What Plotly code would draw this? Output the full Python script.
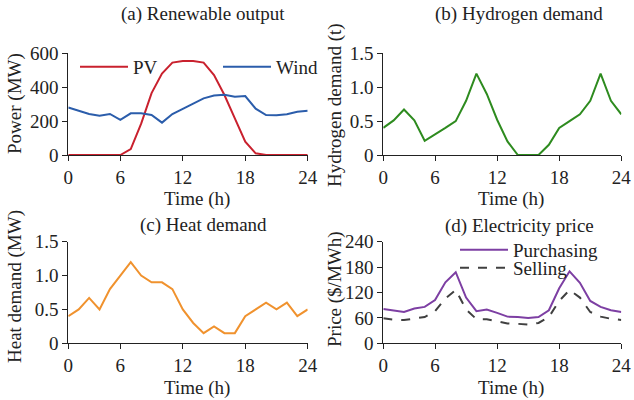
import plotly.graph_objects as go

# ---------------- data ----------------
hours = list(range(1, 25))
x_tick_vals = [1, 6, 12, 18, 24]
x_tick_text = ["0", "6", "12", "18", "24"]

pv = [0, 0, 0, 0, 0, 0, 35, 185, 365, 480, 545, 555,
      555, 545, 472, 354, 216, 79, 10, 0, 0, 0, 0, 0]
wind = [280, 260, 242, 232, 242, 207, 246, 246, 236, 191, 242, 272,
        305, 334, 351, 356, 344, 348, 273, 236, 234, 240, 255, 261]
hydrogen = [0.40, 0.51, 0.67, 0.51, 0.21, 0.30, 0.40, 0.50, 0.80, 1.20, 0.90, 0.52,
            0.20, 0.0, 0.0, 0.0, 0.15, 0.40, 0.50, 0.60, 0.80, 1.20, 0.80, 0.60]
heat = [0.40, 0.50, 0.67, 0.50, 0.80, 1.00, 1.20, 1.00, 0.90, 0.90, 0.80, 0.50,
        0.30, 0.15, 0.25, 0.15, 0.15, 0.40, 0.50, 0.60, 0.50, 0.60, 0.40, 0.50]
price_buy = [81, 78, 74, 82, 86, 102, 144, 168, 108, 76, 80, 72,
             63, 62, 60, 62, 78, 130, 170, 143, 100, 86, 78, 74]
price_sell = [59, 56, 55, 58, 62, 76, 106, 126, 80, 57, 57, 52,
              47, 46, 44, 48, 62, 100, 126, 108, 74, 63, 58, 55]

power_ticks = [0, 200, 400, 600]
unit_ticks = [0, 0.5, 1.0, 1.5]
unit_tick_text = ["0", "0.5", "1.0", "1.5"]
price_ticks = [0, 60, 120, 180, 240]

panel_titles = ["(a) Renewable output", "(b) Hydrogen demand",
                "(c) Heat demand", "(d) Electricity price"]
y_titles = ["Power (MW)", "Hydrogen demand (t)", "Heat demand (MW)", "Price ($/MWh)"]
x_title = "Time (h)"

# ---------------- layout helpers ----------------
W, H = 634, 400
FONT = "Liberation Serif, Times New Roman, serif"
FS = 19

def fx(px):
    return px / W

def fy(py):
    return 1 - py / H

left_x = (68.3, 307.7)
right_x = (383.3, 621.3)
top_y = (53.3, 155.0)
bot_y = (241.7, 343.3)

fig = go.Figure()

fig.add_trace(go.Scatter(x=hours, y=pv, mode="lines", name="PV",
                         line=dict(color="#C9212E", width=2),
                         xaxis="x", yaxis="y", legend="legend"))
fig.add_trace(go.Scatter(x=hours, y=wind, mode="lines", name="Wind",
                         line=dict(color="#2B5DAB", width=2),
                         xaxis="x", yaxis="y", legend="legend2"))
fig.add_trace(go.Scatter(x=hours, y=hydrogen, mode="lines", name="Hydrogen",
                         line=dict(color="#2E8B1F", width=2),
                         xaxis="x2", yaxis="y2", showlegend=False))
fig.add_trace(go.Scatter(x=hours, y=heat, mode="lines", name="Heat",
                         line=dict(color="#F0922E", width=2),
                         xaxis="x3", yaxis="y3", showlegend=False))
fig.add_trace(go.Scatter(x=hours, y=price_buy, mode="lines", name="Purchasing",
                         line=dict(color="#7D3FA3", width=2),
                         xaxis="x4", yaxis="y4", legend="legend3"))
fig.add_trace(go.Scatter(x=hours, y=price_sell, mode="lines", name="Selling",
                         line=dict(color="#404040", width=2, dash="dash"),
                         xaxis="x4", yaxis="y4", legend="legend4"))

axis_common = dict(showline=True, linecolor="#222", linewidth=1, ticks="outside",
                   ticklen=5, tickcolor="#222", showgrid=False, zeroline=False,
                   automargin=False,
                   tickfont=dict(family=FONT, size=FS, color="#222"))

def xaxis(dom, anchor):
    return dict(domain=[fx(dom[0]), fx(dom[1])], anchor=anchor, range=[1, 24],
                tickmode="array", tickvals=x_tick_vals, ticktext=x_tick_text,
                **axis_common)

def yaxis(dom, anchor, rng, tv, tt=None):
    d = dict(domain=[fy(dom[1]), fy(dom[0])], anchor=anchor, range=rng,
             tickmode="array", tickvals=tv, **axis_common)
    if tt is not None:
        d["ticktext"] = tt
    return d

legend_common = dict(bgcolor="rgba(0,0,0,0)", borderwidth=0,
                     font=dict(family=FONT, size=FS, color="#222"),
                     itemwidth=48, xanchor="left", yanchor="middle",
                     orientation="h")

fig.update_layout(
    width=W, height=H, margin=dict(l=0, r=0, t=0, b=0, autoexpand=False),
    paper_bgcolor="white", plot_bgcolor="white",
    font=dict(family=FONT, size=FS, color="#222"),
    hovermode=False,
    xaxis=xaxis(left_x, "y"),
    yaxis=yaxis(top_y, "x", [0, 600], power_ticks),
    xaxis2=xaxis(right_x, "y2"),
    yaxis2=yaxis(top_y, "x2", [0, 1.5], unit_ticks, unit_tick_text),
    xaxis3=xaxis(left_x, "y3"),
    yaxis3=yaxis(bot_y, "x3", [0, 1.5], unit_ticks, unit_tick_text),
    xaxis4=xaxis(right_x, "y4"),
    yaxis4=yaxis(bot_y, "x4", [0, 240], price_ticks),
    legend=dict(x=fx(75), y=fy(67), **legend_common),
    legend2=dict(x=fx(218), y=fy(67), **legend_common),
    legend3=dict(x=fx(455), y=fy(250), **legend_common),
    legend4=dict(x=fx(455), y=fy(268), **legend_common),
)

ann = []
title_pos = [(203, 14), (519, 14), (203, 225), (519, 226)]
for t, (px, py) in zip(panel_titles, title_pos):
    ann.append(dict(text=t, x=fx(px), y=fy(py), xref="paper", yref="paper",
                    showarrow=False, xanchor="center", yanchor="middle",
                    font=dict(family=FONT, size=FS, color="#222")))
ytitle_pos = [(15, 104), (335, 105), (15, 287), (335, 289)]
for t, (px, py) in zip(y_titles, ytitle_pos):
    ann.append(dict(text=t, x=fx(px), y=fy(py), xref="paper", yref="paper",
                    showarrow=False, xanchor="center", yanchor="middle", textangle=-90,
                    font=dict(family=FONT, size=FS, color="#222")))
xtitle_pos = [(197, 199), (511, 199), (197, 388), (511, 388)]
for px, py in xtitle_pos:
    ann.append(dict(text=x_title, x=fx(px), y=fy(py), xref="paper", yref="paper",
                    showarrow=False, xanchor="center", yanchor="middle",
                    font=dict(family=FONT, size=FS, color="#222")))
fig.update_layout(annotations=ann)

# remove the default page margin so the 634x400 figure fills the window exactly
fig.write_html("out.html",
               config={"displayModeBar": False, "staticPlot": True},
               post_script="document.body.style.margin='0';"
                           "document.body.style.overflow='hidden';")
